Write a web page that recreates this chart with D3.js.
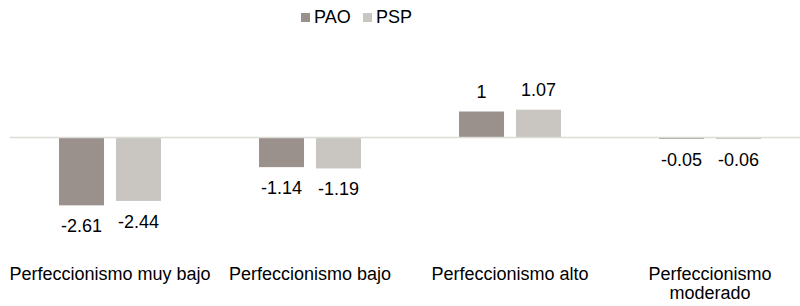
<!DOCTYPE html>
<meta charset="utf-8">
<style>
body { margin: 0; background: #fff; }
text { font-family: "Liberation Sans", Arial, Helvetica, sans-serif; fill: #000; }
</style>
<svg width="800" height="306"></svg>
<script src="https://cdn.jsdelivr.net/npm/d3@7"></script>
<script>
// data
var categories = [["Perfeccionismo muy bajo"], ["Perfeccionismo bajo"], ["Perfeccionismo alto"], ["Perfeccionismo", "moderado"]];
var seriesNames = ["PAO", "PSP"];
var pao = [-2.61, -1.14, 1, -0.05];
var psp = [-2.44, -1.19, 1.07, -0.06];

var colors = ["#9a918d", "#c9c6c1"];

var svg = d3.select("svg");

var x = d3.scaleBand().domain(d3.range(categories.length)).range([10, 810]);
var xs = d3.scaleBand().domain(seriesNames).range([0, 102]).paddingInner(0.21);
var y = d3.scaleLinear().domain([-3, 2]).range([215.5, 85.5]);

var rows = [];
categories.forEach(function(c, i) {
  rows.push({cat: i, s: "PAO", v: pao[i]});
  rows.push({cat: i, s: "PSP", v: psp[i]});
});

//bars
svg.selectAll(".bar")
  .data(rows)
  .enter().append("rect")
    .attr("class", "bar")
    .attr("x", function(d) { return x(d.cat) + x.bandwidth() / 2 - 51 + xs(d.s); })
    .attr("width", xs.bandwidth())
    .attr("y", function(d) { return Math.min(y(d.v), y(0)); })
    .attr("height", function(d) { return Math.max(Math.abs(y(d.v) - y(0)), 1); })
    .attr("fill", function(d) { return colors[seriesNames.indexOf(d.s)]; });

//zero line
svg.append("line")
  .attr("x1", 10).attr("x2", 800)
  .attr("y1", y(0)).attr("y2", y(0))
  .attr("stroke", "#dcdcd7")
  .attr("stroke-width", 1.5);

//value labels
svg.selectAll(".val")
  .data(rows)
  .enter().append("text")
    .attr("class", "val")
    .attr("x", function(d) { return x(d.cat) + x.bandwidth() / 2 - 51 + xs(d.s) + xs.bandwidth() / 2; })
    .attr("y", function(d) { return d.v >= 0 ? y(d.v) - 14 : y(d.v) + 27; })
    .attr("text-anchor", "middle")
    .style("font-size", "18px")
    .text(function(d) { return d.v; });

//category labels
var cl = svg.selectAll(".cat")
  .data(categories)
  .enter().append("text")
    .attr("class", "cat")
    .attr("text-anchor", "middle")
    .style("font-size", "18px");
cl.selectAll("tspan")
  .data(function(d, i) { return d.map(function(t) { return {t: t, i: i}; }); })
  .enter().append("tspan")
    .attr("x", function(d) { return x(d.i) + x.bandwidth() / 2; })
    .attr("y", function(d, j) { return 280 + j * 19; })
    .text(function(d) { return d.t; });

//legend
var legend = svg.append("g").selectAll("g")
  .data(seriesNames)
  .enter().append("g")
    .attr("transform", function(d, i) { return "translate(" + (301 + i * 62) + ",0)"; });
legend.append("rect")
  .attr("y", 13).attr("width", 9).attr("height", 9)
  .attr("fill", function(d, i) { return colors[i]; });
legend.append("text")
  .attr("x", 13).attr("y", 23)
  .style("font-size", "18px")
  .text(function(d) { return d; });
</script>
